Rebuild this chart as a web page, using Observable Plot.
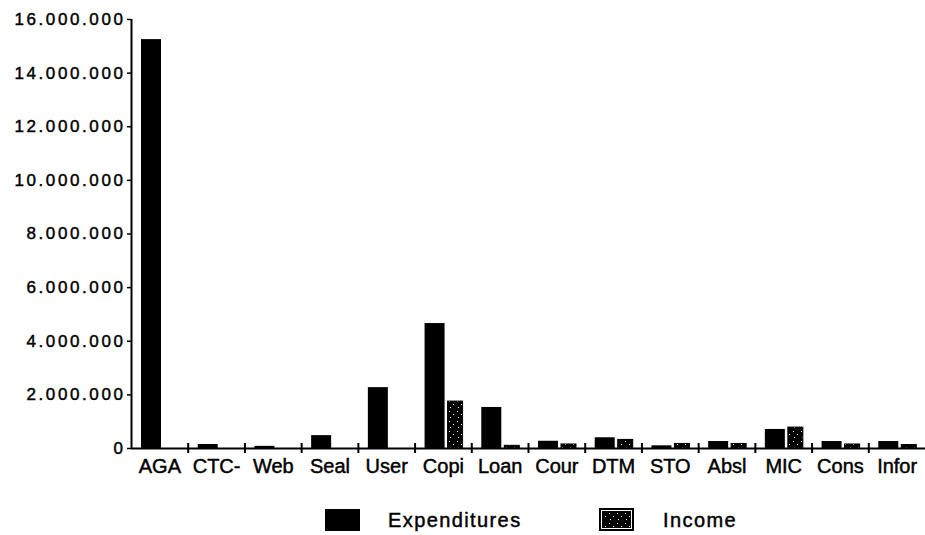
<!DOCTYPE html>
<html>
<head>
<meta charset="utf-8">
<script src="https://cdn.jsdelivr.net/npm/d3@7"></script>
<script src="https://cdn.jsdelivr.net/npm/@observablehq/plot@0.6"></script>
<style>
  body { margin: 0; background: #fff; }
  #chart { width: 925px; position: relative; font-family: "Liberation Sans", Arial, sans-serif; color: #000; }
  #chart svg { display: block; }
  #chart text { stroke: #000; stroke-width: 0.45px; }
  [aria-label="y-axis tick label"] text { letter-spacing: 2.6px; }
  #legend text { letter-spacing: 1.4px; }
</style>
</head>
<body>
<div id="chart"></div>
<script>
// ---- data ----
const categories = ["AGA", "CTC-", "Web", "Seal", "User", "Copi", "Loan", "Cour", "DTM", "STO", "Absl", "MIC", "Cons", "Infor"];
const expenditures = [15250000, 150000, 80000, 480000, 2270000, 4660000, 1530000, 270000, 400000, 100000, 260000, 710000, 260000, 260000];
const income = [0, 0, 0, 0, 0, 1750000, 100000, 150000, 320000, 170000, 170000, 780000, 150000, 130000];
const seriesNames = ["Expenditures", "Income"];
const yTicks = [0, 2000000, 4000000, 6000000, 8000000, 10000000, 12000000, 14000000, 16000000];

const rows = categories.map((c, i) => ({category: c, expenditures: expenditures[i], income: income[i]}));

const W = 925, H = 482, mL = 131, mR = 0, mT = 19, mB = 34;
const step = (W - mL - mR) / categories.length;
const fmt = d3.formatLocale({decimal: ",", thousands: ".", grouping: [3], currency: ["", ""]}).format(",");

const chart = Plot.plot({
  width: W, height: H,
  marginLeft: mL, marginRight: mR, marginTop: mT, marginBottom: mB,
  style: {fontFamily: "'Liberation Sans', Arial, sans-serif", color: "#000", background: "#fff", overflow: "visible"},
  x: {domain: categories, padding: 0, round: false},
  y: {domain: [0, 16000000]},
  marks: [
    Plot.barY(rows, {x: "category", y: "expenditures", fill: "#000", insetLeft: 10, insetRight: step - 30}),
    Plot.barY(rows.filter(d => d.income > 0), {x: "category", y: "income", fill: "url(#stipple)", stroke: "#000", strokeWidth: 1, insetLeft: 33, insetRight: step - 48}),
    Plot.ruleY([0], {stroke: "#000", strokeWidth: 2}),
    Plot.ruleX([categories[0]], {x: d => d, dx: -step / 2, stroke: "#000", strokeWidth: 2}),
    Plot.ruleX(categories.slice(1), {x: d => d, dx: -step / 2, y1: 0, y2: 0, insetTop: -5, insetBottom: -5, stroke: "#000", strokeWidth: 2}),
    Plot.axisY(yTicks, {tickFormat: fmt, tickSize: 4, tickPadding: 2, fontSize: 17, stroke: "#000", strokeWidth: 1.5, label: null}),
    Plot.axisX({tickSize: 0, tickPadding: 10, fontSize: 20, label: null})
  ]
});

const ns = "http://www.w3.org/2000/svg";
const defs = document.createElementNS(ns, "defs");
defs.innerHTML = `<pattern id="stipple" width="8" height="10" patternUnits="userSpaceOnUse">
  <rect width="8" height="10" fill="#000"/>
  <rect x="1" y="1" width="1" height="1" fill="#fff"/>
  <rect x="5" y="4" width="1" height="1" fill="#fff"/>
  <rect x="2" y="7" width="1" height="1" fill="#fff"/>
</pattern>`;
chart.insertBefore(defs, chart.firstChild);

const container = document.getElementById("chart");
container.appendChild(chart);

// legend below the plot
const legend = document.createElementNS(ns, "svg");
legend.setAttribute("id", "legend");
legend.setAttribute("width", 925);
legend.setAttribute("height", 53);
legend.style.display = "block";
legend.innerHTML = `
  <rect x="325" y="27" width="35" height="22" fill="#000"/>
  <text x="388" y="45" font-size="20" font-family="Liberation Sans, Arial, sans-serif" fill="#000">${seriesNames[0]}</text>
  <rect x="599" y="26" width="35" height="23" fill="#000"/>
  <rect x="601.5" y="28.5" width="30" height="18" fill="none" stroke="#fff" stroke-width="1"/>
  <rect x="603" y="30" width="27" height="15" fill="url(#stipple)"/>
  <text x="663" y="45" font-size="20" font-family="Liberation Sans, Arial, sans-serif" fill="#000">${seriesNames[1]}</text>`;
container.appendChild(legend);
</script>
</body>
</html>
